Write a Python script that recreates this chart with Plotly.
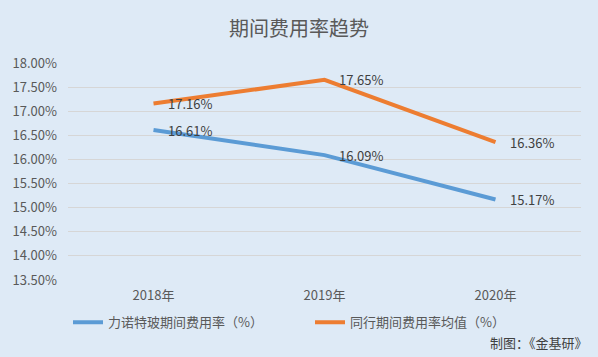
import plotly.graph_objects as go

categories = ["2018年", "2019年", "2020年"]
series_a_name = "力诺特玻期间费用率（%）"
series_a = [16.61, 16.09, 15.17]
series_b_name = "同行期间费用率均值（%）"
series_b = [17.16, 17.65, 16.36]
tick_vals = [13.5, 14.0, 14.5, 15.0, 15.5, 16.0, 16.5, 17.0, 17.5, 18.0]
tick_text = ["%.2f%%" % v for v in tick_vals]

FONT = "Noto Sans CJK SC, Microsoft YaHei, sans-serif"
BG = "#deeaf6"

fig = go.Figure()
fig.add_trace(go.Scatter(x=categories, y=series_a, mode="lines", name=series_a_name,
                         line=dict(color="#5b9bd5", width=4)))
fig.add_trace(go.Scatter(x=categories, y=series_b, mode="lines", name=series_b_name,
                         line=dict(color="#ed7d31", width=4)))

annotations = []
for vals in (series_a, series_b):
    for c, v in zip(categories, vals):
        annotations.append(dict(x=c, y=v, xref="x", yref="y", text="%.2f%%" % v,
                                showarrow=False, xanchor="left", yanchor="middle",
                                xshift=12, font=dict(size=13, color="#404040", family=FONT)))
annotations.append(dict(x=1.0, y=-0.29, xref="paper", yref="paper", text="制图：《金基研》",
                        showarrow=False, xanchor="right", yanchor="middle", xshift=9,
                        font=dict(size=13, color="#404040", family=FONT)))

fig.update_layout(
    width=598, height=357,
    paper_bgcolor=BG, plot_bgcolor=BG,
    margin=dict(l=68, r=17, t=63, b=77, autoexpand=False),
    title=dict(text="期间费用率趋势", x=0.5, xanchor="center", y=0.92, yanchor="middle",
               font=dict(size=20, color="#595959", family=FONT)),
    font=dict(family=FONT, color="#595959", size=13),
    showlegend=True,
    legend=dict(orientation="h", x=0.0, y=-0.195, xanchor="left", yanchor="middle",
                bgcolor="rgba(0,0,0,0)", font=dict(size=13, color="#595959", family=FONT),
                entrywidth=197, entrywidthmode="pixels", itemwidth=30),
    xaxis=dict(type="category", range=[-0.5, 2.5], showgrid=False, showline=False,
               zeroline=False, ticks="", ticklabelstandoff=6,
               tickfont=dict(size=13, color="#595959")),
    yaxis=dict(range=[13.5, 18.0], tickvals=tick_vals, ticktext=tick_text,
               showgrid=True, gridcolor="#d6d6d6", gridwidth=1, zeroline=False,
               showline=False, ticks="", ticklen=0, ticklabelstandoff=10,
               tickfont=dict(size=13, color="#595959")),
    annotations=annotations,
)
fig.write_html("out.html", config={"displayModeBar": False},
               post_script="document.body.style.margin='0';document.body.style.padding='0';")
